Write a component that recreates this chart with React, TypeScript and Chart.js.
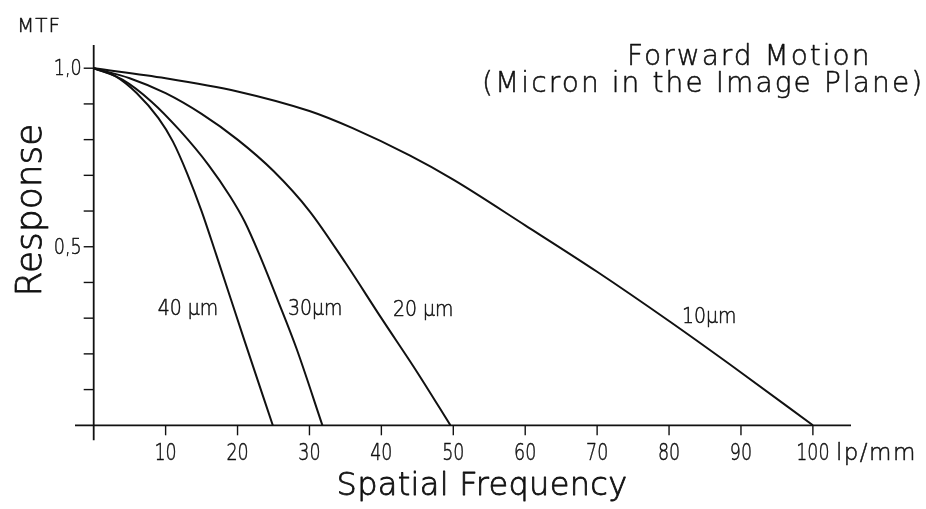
import React, { useEffect, useRef } from "react";
import { Chart, registerables } from "chart.js";

Chart.register(...registerables);

// ---- data ----
const freq10 = [0, 10, 20, 30, 36, 44, 50, 60, 70, 80, 90, 100];
const resp10 = [1, 0.972, 0.935, 0.88, 0.832, 0.755, 0.688, 0.56, 0.43, 0.292, 0.148, 0];

const freq20 = [0, 5, 10, 15, 20, 25, 30, 35, 40, 45, 49.6];
const resp20 = [1, 0.972, 0.93, 0.872, 0.8, 0.712, 0.6, 0.455, 0.3, 0.148, 0];

const freq30 = [0, 4, 8, 12, 16, 19, 21, 23, 25.6, 28.2, 31.8];
const resp30 = [1, 0.968, 0.907, 0.825, 0.728, 0.64, 0.57, 0.48, 0.35, 0.215, 0];

const freq40 = [0, 3, 6, 9, 11, 13, 15, 17, 21, 24.9];
const resp40 = [1, 0.978, 0.93, 0.86, 0.795, 0.705, 0.6, 0.48, 0.235, 0];

const xTicks = [10, 20, 30, 40, 50, 60, 70, 80, 90, 100];
const yTicks = [0.1, 0.2, 0.3, 0.4, 0.5, 0.6, 0.7, 0.8, 0.9, 1.0];
const yTickLabels: Record<string, string> = { "1.0": "1,0", "0.5": "0,5" };
const xUnit = "lp/mm";

const curveLabels = ["40 µm", "30µm", "20 µm", "10µm"];
const curveLabelX = [8.9, 27.0, 41.6, 81.8];
const curveLabelY = [0.31, 0.31, 0.305, 0.286];

const FONT = '"DejaVu Sans", sans-serif';

function toPoints(xs: number[], ys: number[]) {
  return xs.map((x, i) => ({ x, y: ys[i] }));
}

function txt(
  ctx: CanvasRenderingContext2D,
  s: string,
  x: number,
  y: number,
  size: number,
  o: { align?: CanvasTextAlign; sx?: number; ls?: number; rot?: number; bold?: number } = {}
) {
  ctx.save();
  ctx.translate(x, y);
  if (o.rot) ctx.rotate(o.rot);
  ctx.scale(o.sx ?? 1, 1);
  ctx.font = `300 ${size}px ${FONT}`;
  (ctx as any).letterSpacing = `${o.ls ?? 0}px`;
  ctx.textAlign = o.align ?? "left";
  ctx.textBaseline = "alphabetic";
  ctx.fillStyle = "#111";
  ctx.strokeStyle = "#111";
  ctx.lineWidth = o.bold ?? 0.5;
  ctx.lineJoin = "round";
  ctx.fillText(s, 0, 0);
  ctx.strokeText(s, 0, 0);
  ctx.restore();
}

const decor = {
  id: "decor",
  afterDraw(chart: any) {
    const ctx: CanvasRenderingContext2D = chart.ctx;
    const xs = chart.scales.x;
    const ys = chart.scales.y;
    const x0 = xs.getPixelForValue(0);
    const y0 = ys.getPixelForValue(0);
    ctx.save();
    ctx.strokeStyle = "#111";
    ctx.lineWidth = 1.8;
    ctx.lineCap = "butt";
    // x axis
    ctx.beginPath();
    ctx.moveTo(xs.getPixelForValue(xs.min), y0);
    ctx.lineTo(xs.getPixelForValue(xs.max), y0);
    ctx.stroke();
    // y axis
    ctx.beginPath();
    ctx.moveTo(x0, ys.getPixelForValue(ys.max));
    ctx.lineTo(x0, ys.getPixelForValue(-0.042));
    ctx.stroke();
    // x ticks (below the axis)
    ctx.lineWidth = 1.4;
    for (const t of xTicks) {
      const px = xs.getPixelForValue(t);
      ctx.beginPath();
      ctx.moveTo(px, y0);
      ctx.lineTo(px, y0 + 10);
      ctx.stroke();
    }
    // y ticks (left of the axis)
    for (const t of yTicks) {
      const py = ys.getPixelForValue(t);
      ctx.beginPath();
      ctx.moveTo(x0 - 10, py);
      ctx.lineTo(x0, py);
      ctx.stroke();
    }
    ctx.restore();

    // x tick labels
    for (const t of xTicks) {
      const px = xs.getPixelForValue(t);
      txt(ctx, String(t), px, y0 + 35, 23, { align: "center", sx: 0.76 });
    }
    const p100 = xs.getPixelForValue(xTicks[xTicks.length - 1]);
    txt(ctx, xUnit, p100 + 23, y0 + 35, 23, { ls: 1.5 });

    // y tick labels
    for (const t of yTicks) {
      const lab = yTickLabels[t.toFixed(1)];
      if (!lab) continue;
      const py = ys.getPixelForValue(t);
      txt(ctx, lab, x0 - 12, py + 7, 22, { align: "right", sx: 0.8 });
    }

    // curve labels
    curveLabels.forEach((lab, i) => {
      txt(ctx, lab, xs.getPixelForValue(curveLabelX[i]), ys.getPixelForValue(curveLabelY[i]), 21, { sx: 0.9 });
    });

    // axis titles and heading
    txt(ctx, "MTF", 17, 32, 20, { ls: 1 });
    txt(ctx, "Response", 41, 210, 36, { align: "center", rot: -Math.PI / 2, bold: 0.8 });
    txt(ctx, "Spatial Frequency", 482, 495, 32, { align: "center", ls: 0.3, bold: 0.8 });
    txt(ctx, "Forward Motion", 627, 65, 28, { ls: 2 });
    txt(ctx, "(Micron in the Image Plane)", 482, 92, 28, { ls: 2.1 });
  },
};

export default function App() {
  const ref = useRef<HTMLCanvasElement>(null);
  useEffect(() => {
    document.body.style.margin = "0";
    const canvas = ref.current!;
    const mk = (xs: number[], ys: number[]) => ({
      data: toPoints(xs, ys),
      borderColor: "#111",
      borderWidth: 2,
      pointRadius: 0,
      fill: false,
      cubicInterpolationMode: "monotone" as const,
    });
    const chart = new Chart(canvas, {
      type: "line",
      data: {
        datasets: [mk(freq10, resp10), mk(freq20, resp20), mk(freq30, resp30), mk(freq40, resp40)],
      },
      options: {
        animation: false,
        responsive: false,
        maintainAspectRatio: false,
        devicePixelRatio: 1,
        layout: { padding: { left: 75, right: 75, top: 45, bottom: 73 } },
        plugins: { legend: { display: false }, tooltip: { enabled: false }, title: { display: false } },
        scales: {
          x: { type: "linear", min: -2.6, max: 105.3, display: false },
          y: { type: "linear", min: -0.03, max: 1.065, display: false },
        },
      },
      plugins: [decor],
    });
    return () => chart.destroy();
  }, []);
  return <canvas ref={ref} width={926} height={509} style={{ display: "block" }} />;
}
